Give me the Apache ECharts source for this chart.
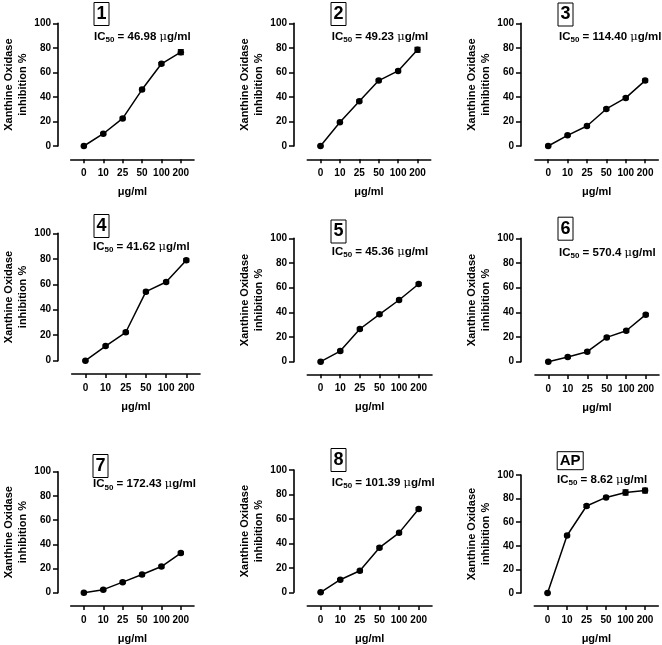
<!DOCTYPE html>
<html><head><meta charset="utf-8">
<script src="https://cdn.jsdelivr.net/npm/echarts@6/dist/echarts.min.js"></script>
<style>html,body{margin:0;padding:0;background:#fff}#c{width:662px;height:645px}</style>
</head><body><div id="c"></div>
<script>
// ---- data ----
const doses = ['0', '10', '25', '50', '100', '200'];
const yTicks = [0, 20, 40, 60, 80, 100];
const panelLabels = ['1', '2', '3', '4', '5', '6', '7', '8', 'AP'];
const ic50Values = ['46.98', '49.23', '114.40', '41.62', '45.36', '570.4', '172.43', '101.39', '8.62'];
const yAxisName = 'Xanthine Oxidase\ninhibition %';
const xAxisName = 'μg/ml';

const inhib1 = [0, 10, 22.5, 46, 67, 76.5];
const err1   = [0.5, 0.8, 1, 1, 1, 2];
const inhib2 = [0, 19.3, 36.5, 53.3, 61.2, 78.4];
const err2   = [0.5, 0.8, 1, 1, 1, 2];
const inhib3 = [0, 8.7, 16.3, 30.2, 39.2, 53.3];
const err3   = [0.5, 0.8, 1, 1, 1, 1.2];
const inhib4 = [0, 11.5, 22.3, 54.2, 61.8, 78.8];
const err4   = [0.5, 0.8, 1, 1, 1, 1.2];
const inhib5 = [0, 8.6, 26.5, 38.4, 50, 63];
const err5   = [0.5, 0.8, 1, 1, 1, 1];
const inhib6 = [0, 3.8, 8.1, 19.7, 25.1, 38.1];
const err6   = [0.5, 0.8, 1, 1, 1, 1];
const inhib7 = [0, 2.5, 8.7, 15, 21.6, 32.8];
const err7   = [0.5, 0.8, 1, 1, 1, 1];
const inhib8 = [0, 10.3, 17.6, 36.5, 48.6, 68.1];
const err8   = [0.5, 0.8, 1, 1, 1, 1];
const inhibAP = [0, 48.7, 73.7, 81, 85.2, 86.8];
const errAP   = [0.5, 1, 1.2, 1, 2.2, 2];

const seriesValues = [inhib1, inhib2, inhib3, inhib4, inhib5, inhib6, inhib7, inhib8, inhibAP];
const seriesErrors = [err1, err2, err3, err4, err5, err6, err7, err8, errAP];

// ---- layout (pixels) ----
// ya: y-axis line x; x0/x1: x-axis line extent; t/b: y=100 / y=0 pixel rows; xa: x-axis line y
const layout = [
  {ya: 58,  x0: 70.7,  x1: 194,   t: 23.3,  b: 146,   xa: 159.3, box: [94, 2],      ic: [94, 36.7]},
  {ya: 294, x0: 307.3, x1: 430.7, t: 23.3,  b: 146,   xa: 159.3, box: [331, 2],     ic: [331.7, 36.7]},
  {ya: 521, x0: 535,   x1: 658.3, t: 23.3,  b: 146,   xa: 159.3, box: [558, 2.5],   ic: [559, 36.7]},
  {ya: 58,  x0: 71.7,  x1: 200,   t: 233.3, b: 360.7, xa: 374,   box: [94, 214],    ic: [93, 246.7]},
  {ya: 294, x0: 307.3, x1: 432,   t: 238.3, b: 361.7, xa: 374.3, box: [331, 219.5], ic: [331.7, 251.7]},
  {ya: 521, x0: 535,   x1: 659,   t: 238.3, b: 361.7, xa: 375,   box: [558, 216.7], ic: [559, 252.7]},
  {ya: 58,  x0: 70.7,  x1: 194,   t: 471.7, b: 593.7, xa: 607,   box: [93, 454],    ic: [93, 484.3]},
  {ya: 294, x0: 307.3, x1: 432,   t: 470,   b: 593.3, xa: 607,   box: [331, 448],   ic: [331.7, 482.7]},
  {ya: 521, x0: 534.3, x1: 658.3, t: 475,   b: 594,   xa: 607,   box: [556.7, 451.7], ic: [557, 480]}
];

const FONT = 'Arial, "Liberation Sans", Helvetica, sans-serif';
const grids = [], xAxes = [], yAxes = [], series = [], titles = [];
const idx = doses.map((d, i) => i);

layout.forEach((L, i) => {
  grids.push({left: L.x0, top: L.t, width: L.x1 - L.x0, height: L.b - L.t, containLabel: false});
  xAxes.push({
    type: 'value', gridIndex: i, min: -0.68, max: 5.68, position: 'bottom',
    offset: L.xa - L.b,
    axisLine: {show: true, onZero: false, lineStyle: {color: '#000', width: 1.6}},
    axisTick: {show: true, customValues: idx, length: 4, lineStyle: {color: '#000', width: 1.5}},
    axisLabel: {customValues: idx, formatter: v => doses[Math.round(v)], color: '#000',
      fontFamily: FONT, fontWeight: 'bold', fontSize: 10, margin: 9},
    splitLine: {show: false},
    name: xAxisName, nameLocation: 'middle', nameGap: 27,
    nameTextStyle: {color: '#000', fontFamily: FONT, fontWeight: 'bold', fontSize: 11}
  });
  yAxes.push({
    type: 'value', gridIndex: i, min: yTicks[0], max: yTicks[yTicks.length - 1], interval: 20,
    position: 'left', offset: L.x0 - L.ya,
    axisLine: {show: true, onZero: false, lineStyle: {color: '#000', width: 1.6}},
    axisTick: {show: true, length: 5, lineStyle: {color: '#000', width: 1.5}},
    axisLabel: {color: '#000', fontFamily: FONT, fontWeight: 'bold', fontSize: 10, margin: 7},
    splitLine: {show: false},
    name: yAxisName, nameLocation: 'middle', nameGap: 26, nameRotate: 90,
    nameTextStyle: {color: '#000', fontFamily: FONT, fontWeight: 'bold', fontSize: 11, lineHeight: 14, align: 'center'}
  });
  const vals = seriesValues[i], errs = seriesErrors[i];
  series.push({
    type: 'custom', xAxisIndex: i, yAxisIndex: i, silent: true, z: 1,
    data: vals.map((v, k) => [k, v, errs[k]]),
    renderItem: (params, api) => {
      const x = api.value(0), v = api.value(1), e = api.value(2);
      const hi = api.coord([x, v + e]), lo = api.coord([x, v - e]);
      const st = {stroke: '#000', lineWidth: 1.2};
      return {type: 'group', children: [
        {type: 'line', shape: {x1: hi[0], y1: hi[1], x2: lo[0], y2: lo[1]}, style: st},
        {type: 'line', shape: {x1: hi[0] - 3, y1: hi[1], x2: hi[0] + 3, y2: hi[1]}, style: st},
        {type: 'line', shape: {x1: lo[0] - 3, y1: lo[1], x2: lo[0] + 3, y2: lo[1]}, style: st}
      ]};
    }
  });
  series.push({
    type: 'line', xAxisIndex: i, yAxisIndex: i, z: 2,
    data: vals.map((v, k) => [k, v]),
    symbol: 'circle', symbolSize: 6.5, showSymbol: true,
    lineStyle: {color: '#000', width: 1.5},
    itemStyle: {color: '#000'},
    animation: false
  });
  const isAP = panelLabels[i].length > 1;
  titles.push({
    text: panelLabels[i], left: L.box[0], top: L.box[1],
    borderColor: '#000', borderWidth: 1,
    padding: isAP ? [1.5, 3, 1.5, 3] : [3, 2.5, 3, 2.5],
    textStyle: {color: '#000', fontFamily: FONT, fontWeight: 'bold', fontSize: isAP ? 15 : 18}
  });
  titles.push({
    text: '{n|IC}{s|50}{n| = ' + ic50Values[i] + ' }{m|μ}{n|g/ml}',
    left: L.ic[0], top: L.ic[1] - 7, padding: 0,
    textStyle: {
      rich: {
        n: {color: '#000', fontFamily: FONT, fontWeight: 'bold', fontSize: 11.5},
        s: {color: '#000', fontFamily: FONT, fontWeight: 'bold', fontSize: 8, padding: [6, 0, 0, 0]},
        m: {color: '#000', fontFamily: '"DejaVu Serif", serif', fontWeight: 'normal', fontSize: 11.5}
      }
    }
  });
});

const chart = echarts.init(document.getElementById('c'), null, {renderer: 'canvas'});
chart.setOption({
  backgroundColor: '#fff',
  animation: false,
  title: titles,
  grid: grids,
  xAxis: xAxes,
  yAxis: yAxes,
  series: series
});
</script>
</body></html>
